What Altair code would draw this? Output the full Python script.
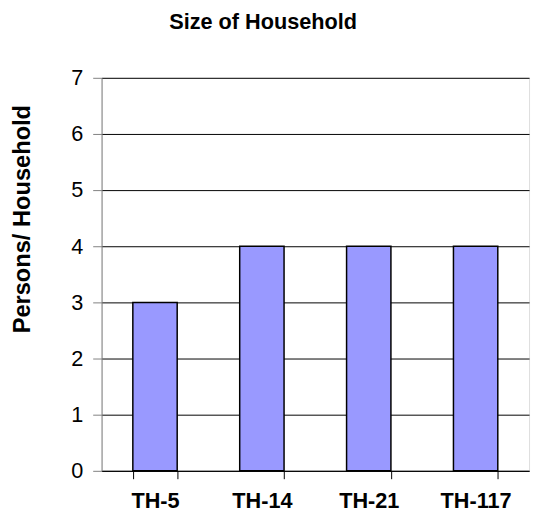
import altair as alt
import pandas as pd

categories = ["TH-5", "TH-14", "TH-21", "TH-117"]
values = [3, 4, 4, 4]
y_ticks = [0, 1, 2, 3, 4, 5, 6, 7]

df = pd.DataFrame({"site": categories, "persons": values})

FONT = "Liberation Sans"

bars = alt.Chart(df).mark_bar(
    color="#9999FF", stroke="#000000", strokeWidth=1.5
).encode(
    x=alt.X("site:N", sort=categories,
            scale=alt.Scale(paddingInner=0.585, paddingOuter=0.2925),
            axis=alt.Axis(title=None, labelAngle=0, labelFont=FONT, labelFontSize=22,
                          labelFontWeight="bold", labelColor="#000000", labelPadding=12,
                          domainColor="#000000", tickColor="#000000", tickSize=8,
                          tickBand="extent", grid=False)),
    y=alt.Y("persons:Q", scale=alt.Scale(domain=[0, 7], nice=False),
            axis=alt.Axis(title="Persons/ Household", values=y_ticks, titleFont=FONT,
                          titleFontSize=24, titleFontWeight="bold", titleColor="#000000",
                          titleAngle=270, titleBaseline="middle", titleAlign="center",
                          titleX=-80, titleY=143,
                          labelFont=FONT, labelFontSize=22,
                          labelColor="#000000", labelPadding=10, domainColor="#808080",
                          tickColor="#808080", tickSize=9, grid=True,
                          gridColor="#000000", gridOpacity=1, gridWidth=1)),
)

chart = bars.properties(
    width=434, height=399,
    title=alt.TitleParams("Size of Household", font=FONT, fontSize=22, fontWeight="bold",
                          color="#000000", anchor="middle", offset=34, dx=-53),
    autosize=alt.AutoSizeParams(type="none"),
    padding={"left": 95, "top": 67, "right": 4, "bottom": 43},
).configure_view(stroke=None).configure(background="#ffffff")

chart.save("out.html", embed_options={"renderer": "svg", "actions": False})
